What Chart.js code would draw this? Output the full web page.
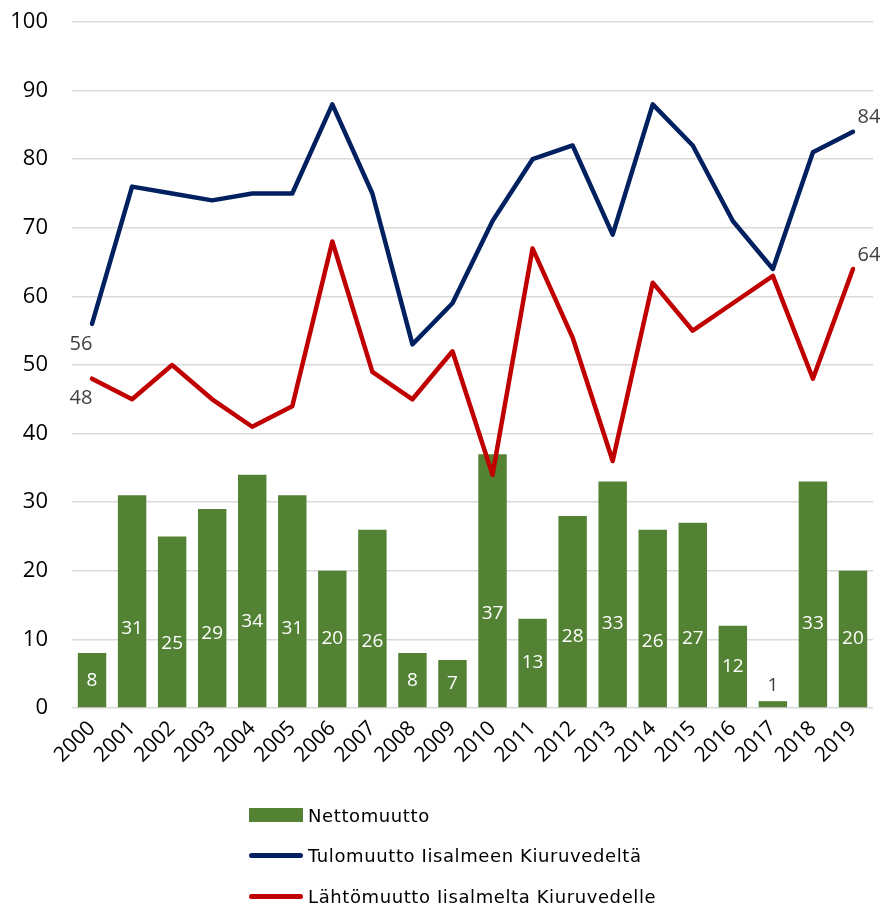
<!DOCTYPE html>
<html>
<head>
<meta charset="utf-8">
<script src="https://cdn.jsdelivr.net/npm/chart.js@4.4.1/dist/chart.umd.min.js"></script>
<style>
  body { margin: 0; background: #fff; }
  #wrap { position: relative; width: 885px; height: 905px; }
  #legend { position: absolute; left: 249px; top: 795px; font-family: "DejaVu Sans", sans-serif; font-size: 18px; letter-spacing: 0.6px; color: #000; }
  .item { display: flex; align-items: center; height: 40.5px; }
  .mark { width: 54px; margin-right: 5px; }
  .box { height: 14px; }
  .line { height: 5px; border-radius: 3px; }
</style>
</head>
<body>
<div id="wrap">
  <canvas id="chart" width="885" height="905"></canvas>
  <div id="legend"></div>
</div>
<script>
/* --------------- Data --------------------- */
const years = ["2000", "2001", "2002", "2003", "2004", "2005", "2006", "2007", "2008", "2009",
  "2010", "2011", "2012", "2013", "2014", "2015", "2016", "2017", "2018", "2019"];
const nettomuutto = [8, 31, 25, 29, 34, 31, 20, 26, 8, 7, 37, 13, 28, 33, 26, 27, 12, 1, 33, 20];
const tulomuutto = [56, 76, 75, 74, 75, 75, 88, 75, 53, 59, 71, 80, 82, 69, 88, 82, 71, 64, 81, 84];
const lahtomuutto = [48, 45, 50, 45, 41, 44, 68, 49, 45, 52, 34, 67, 54, 36, 62, 55, 59, 63, 48, 64];
const yTicks = { min: 0, max: 100, step: 10 };

const GREEN = "#548235";
const BLUE = "#002060";
const RED = "#C00000";

/* --------------- Labels on bars and line ends --------------------- */
const valueLabels = {
  id: "valueLabels",
  afterDatasetsDraw(chart) {
    const ctx = chart.ctx;
    ctx.save();
    ctx.textAlign = "center";
    ctx.textBaseline = "middle";
    ctx.font = '19px "Open Sans"';
    chart.getDatasetMeta(0).data.forEach((bar, i) => {
      const v = nettomuutto[i];
      const h = bar.base - bar.y;
      if (v < 3) {
        ctx.fillStyle = "#404040";
        ctx.fillText(v, bar.x, bar.y - 16);
      } else {
        ctx.fillStyle = "#ffffff";
        ctx.fillText(v, bar.x, bar.base - (h <= 140 ? h / 2 : h * 0.37));
      }
    });
    ctx.fillStyle = "#404040";
    ctx.font = '20px "Open Sans"';
    [1, 2].forEach((di) => {
      const pts = chart.getDatasetMeta(di).data;
      const vals = chart.data.datasets[di].data;
      const first = pts[0], last = pts[pts.length - 1];
      ctx.fillText(vals[0], first.x - 11, first.y + 20);
      ctx.fillText(vals[vals.length - 1], last.x + 16, last.y - 14);
    });
    ctx.restore();
  },
};

/* --------------- Chart --------------------- */
const chart = new Chart(document.getElementById("chart"), {
  type: "bar",
  plugins: [valueLabels],
  data: {
    labels: years,
    datasets: [
      {
        label: "Nettomuutto",
        data: nettomuutto,
        backgroundColor: GREEN,
        categoryPercentage: 1,
        barPercentage: 0.71,
        order: 2,
      },
      {
        type: "line",
        label: "Tulomuutto Iisalmeen Kiuruvedeltä",
        data: tulomuutto,
        borderColor: BLUE,
        backgroundColor: BLUE,
        borderWidth: 4.5,
        pointRadius: 0,
        borderCapStyle: "round",
        borderJoinStyle: "round",
        order: 1,
      },
      {
        type: "line",
        label: "Lähtömuutto Iisalmelta Kiuruvedelle",
        data: lahtomuutto,
        borderColor: RED,
        backgroundColor: RED,
        borderWidth: 4.5,
        pointRadius: 0,
        borderCapStyle: "round",
        borderJoinStyle: "round",
        order: 0,
      },
    ],
  },
  options: {
    responsive: false,
    animation: false,
    layout: { padding: { top: 22, right: 12, bottom: 125, left: 0 } },
    plugins: {
      legend: { display: false },
      tooltip: { enabled: false },
    },
    scales: {
      x: {
        grid: { display: false, drawTicks: false },
        border: { display: false },
        ticks: {
          maxRotation: 45,
          minRotation: 45,
          padding: 8,
          color: "#000",
          font: { family: "Open Sans", size: 21 },
        },
        afterFit: (s) => { s.height = 72; },
      },
      y: {
        min: yTicks.min,
        max: yTicks.max,
        grid: { color: "#D9D9D9", lineWidth: 1.5, drawTicks: false },
        border: { display: false },
        ticks: {
          stepSize: yTicks.step,
          padding: 24,
          color: "#000",
          font: { family: "Open Sans", size: 22 },
        },
        afterFit: (s) => {
          s.width = 72;
          s.paddingTop = 0;
          s.paddingBottom = 0;
        },
      },
    },
  },
});

/* --------------- Legend --------------------- */
const legend = document.getElementById("legend");
chart.data.datasets.forEach((ds) => {
  const isLine = ds.type === "line";
  legend.innerHTML += `<div class="item"><div class="mark ${isLine ? "line" : "box"}" style="background:${isLine ? ds.borderColor : ds.backgroundColor}"></div><span>${ds.label}</span></div>`;
});
</script>
</body>
</html>
